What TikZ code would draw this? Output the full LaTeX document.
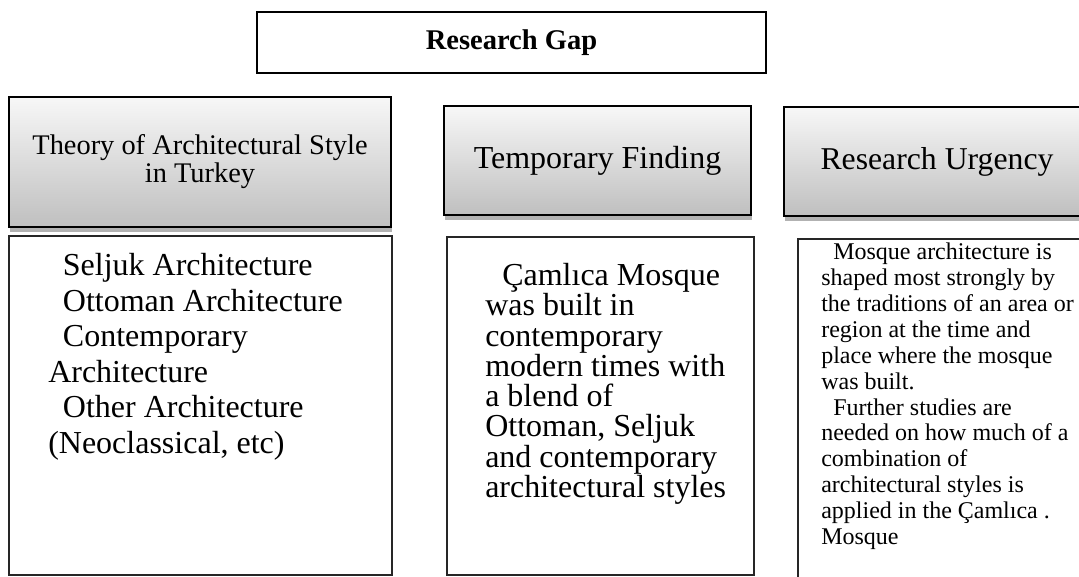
\documentclass[tikz,border=0pt]{standalone}
\usepackage{fontspec}
\setmainfont{Liberation Serif}
\usetikzlibrary{shadows}
\tikzset{
  gapbox/.style={draw=black, line width=1.3pt, fill=white, inner sep=0pt},
  headbox/.style={draw=black, line width=1.3pt, top color=gray!6, bottom color=gray!50, inner sep=0pt,
    drop shadow={shadow xshift=1pt, shadow yshift=-3.5pt, fill=black, opacity=0.3}},
  bodybox/.style={draw=black!85, line width=1.2pt, fill=white, inner sep=0pt},
  bodytext/.style={anchor=north west, inner sep=0pt, align=left}
}

\begin{document}
\begin{tikzpicture}[x=0.75pt,y=-0.75pt]
\useasboundingbox (0,0) rectangle (1079,576);
\fill[white] (0,0) rectangle (1079,576);
\node[gapbox, minimum width=381.75pt, minimum height=45.75pt, font=\fontsize{21.4}{24}\selectfont\bfseries] (gap) at (511.5,42.5) {Research Gap};
\node[headbox, minimum width=286.5pt, minimum height=97.5pt, align=center, font=\fontsize{21.3}{21}\selectfont] (theory) at (200,162) {Theory of Architectural Style\\in Turkey};
\node[headbox, minimum width=230.25pt, minimum height=81.75pt, font=\fontsize{24}{26}\selectfont] (finding) at (597.5,160.5) {Temporary Finding};
\node[headbox, minimum width=229.5pt, minimum height=81.75pt, font=\fontsize{23.8}{26}\selectfont] (urgency) at (937,161.5) {Research Urgency};
\node[bodybox, minimum width=287.25pt, minimum height=254.25pt] (styles) at (200.5,405.5) {};
\node[bodybox, minimum width=230.25pt, minimum height=253.5pt] (mosque) at (600.5,406) {};
\node[bodybox, minimum width=230.25pt, minimum height=263.25pt] (needs) at (951.5,414.5) {};
\node[bodytext, font=\fontsize{24}{26.7}\selectfont] (stylestext) at (48,253) {\hspace*{11pt}Seljuk Architecture\\
\hspace*{11pt}Ottoman Architecture\\
\hspace*{11pt}Contemporary\\
Architecture\\
\hspace*{11pt}Other Architecture\\
(Neoclassical, etc)};
\node[bodytext, font=\fontsize{24}{22.7}\selectfont] (mosquetext) at (485,263) {\hspace*{12.75pt}Çamlıca Mosque\\
was built in\\
contemporary\\
modern times with\\
a blend of\\
Ottoman, Seljuk\\
and contemporary\\
architectural styles};
\node[bodytext, font=\fontsize{18}{19.4}\selectfont] (needstext) at (821,243) {\hspace*{9pt}Mosque architecture is\\
shaped most strongly by\\
the traditions of an area or\\
region at the time and\\
place where the mosque\\
was built.\\
\hspace*{9pt}Further studies are\\
needed on how much of a\\
combination of\\
architectural styles is\\
applied in the Çamlıca .\\
Mosque};
\end{tikzpicture}
\end{document}
